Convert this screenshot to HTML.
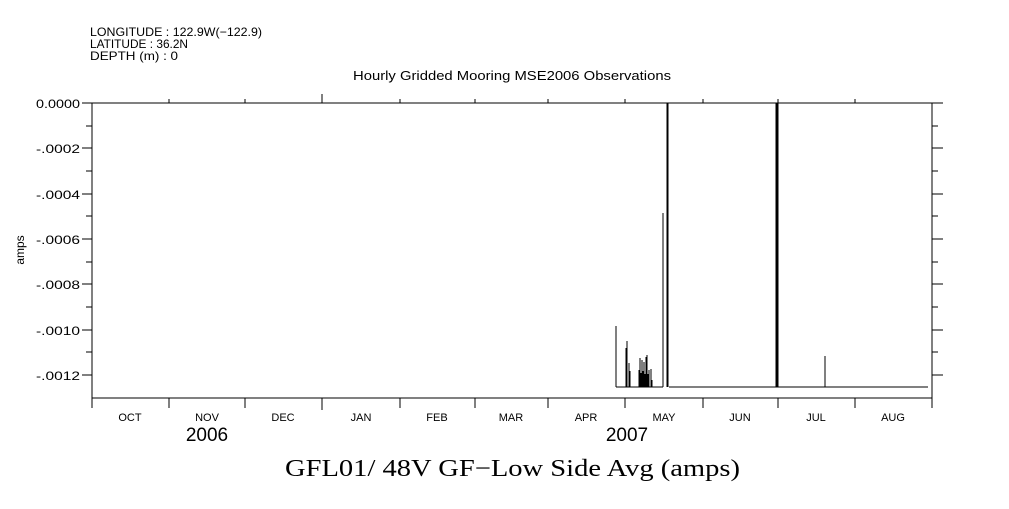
<!DOCTYPE html><html><head><style>body{margin:0;background:#fff}svg text{font-family:"Liberation Sans",sans-serif}</style></head><body>
<svg width="1009" height="504" xmlns="http://www.w3.org/2000/svg">
<g font-size="12" fill="#000">
<text x="90" y="36" textLength="172" lengthAdjust="spacingAndGlyphs">LONGITUDE : 122.9W(−122.9)</text>
<text x="90" y="48" textLength="98" lengthAdjust="spacingAndGlyphs">LATITUDE : 36.2N</text>
<text x="90" y="60" textLength="88" lengthAdjust="spacingAndGlyphs">DEPTH (m) : 0</text>
<text x="353" y="80" font-size="13" textLength="318" lengthAdjust="spacingAndGlyphs">Hourly Gridded Mooring MSE2006 Observations</text>
</g>
<g stroke="#000" stroke-width="1" fill="none" shape-rendering="crispEdges">
<rect x="92" y="103" width="840" height="295"/>
<path d="M82 103H92M82 148H92M82 194H92M82 239H92M82 284H92M82 330H92M82 375H92
M86 126H92M86 171H92M86 216H92M86 262H92M86 307H92M86 352H92
M932 103H943M932 148H943M932 194H943M932 239H943M932 284H943M932 330H943M932 375H943
M932 126H938M932 171H938M932 216H938M932 262H938M932 307H938M932 352H938"/>
<path d="M169 103V99M245 103V99M322 103V94M400 103V99M475 103V99M548 103V99M625 103V99M703 103V99M778 103V99M855 103V99
M92 398V408M169 398V408M245 398V408M322 398V410M400 398V408M475 398V408M548 398V408M625 398V408M703 398V408M778 398V408M855 398V408M932 398V408"/>
<path d="M616 387H663M669 387H928M616 387V326M626 387V348M627 387V341M629 387V363M630 387V371M639 387V370M640 387V358M641 387V373M642 387V360M643 387V371M644 387V362M645 387V374M646 387V357M647 387V355M648 387V374M649 387V370M651 387V369M652 387V380M663 387V213M667 387V103M668 387V103M776 387V103M777 387V103M778 387V103M825 387V356"/>
</g>
<g font-size="12" text-anchor="end">
<text x="80" y="108" textLength="44" lengthAdjust="spacingAndGlyphs">0.0000</text><text x="80" y="153" textLength="44" lengthAdjust="spacingAndGlyphs">-.0002</text><text x="80" y="199" textLength="44" lengthAdjust="spacingAndGlyphs">-.0004</text><text x="80" y="244" textLength="44" lengthAdjust="spacingAndGlyphs">-.0006</text><text x="80" y="289" textLength="44" lengthAdjust="spacingAndGlyphs">-.0008</text><text x="80" y="335" textLength="44" lengthAdjust="spacingAndGlyphs">-.0010</text><text x="80" y="380" textLength="44" lengthAdjust="spacingAndGlyphs">-.0012</text>
</g>
<text x="24" y="250" font-size="12" text-anchor="middle" transform="rotate(-90 24 250)">amps</text>
<g font-size="11" text-anchor="middle">
<text x="130" y="421">OCT</text><text x="207" y="421">NOV</text><text x="283" y="421">DEC</text><text x="361" y="421">JAN</text><text x="437" y="421">FEB</text><text x="511" y="421">MAR</text><text x="586" y="421">APR</text><text x="664" y="421">MAY</text><text x="740" y="421">JUN</text><text x="816" y="421">JUL</text><text x="893" y="421">AUG</text>
</g>
<g font-size="19" text-anchor="middle"><text x="207" y="441">2006</text><text x="627" y="441">2007</text></g>
<text x="285" y="476" font-size="24" textLength="455" lengthAdjust="spacingAndGlyphs" style="font-family:'Liberation Serif',serif">GFL01/ 48V GF−Low Side Avg (amps)</text>
</svg></body></html>
